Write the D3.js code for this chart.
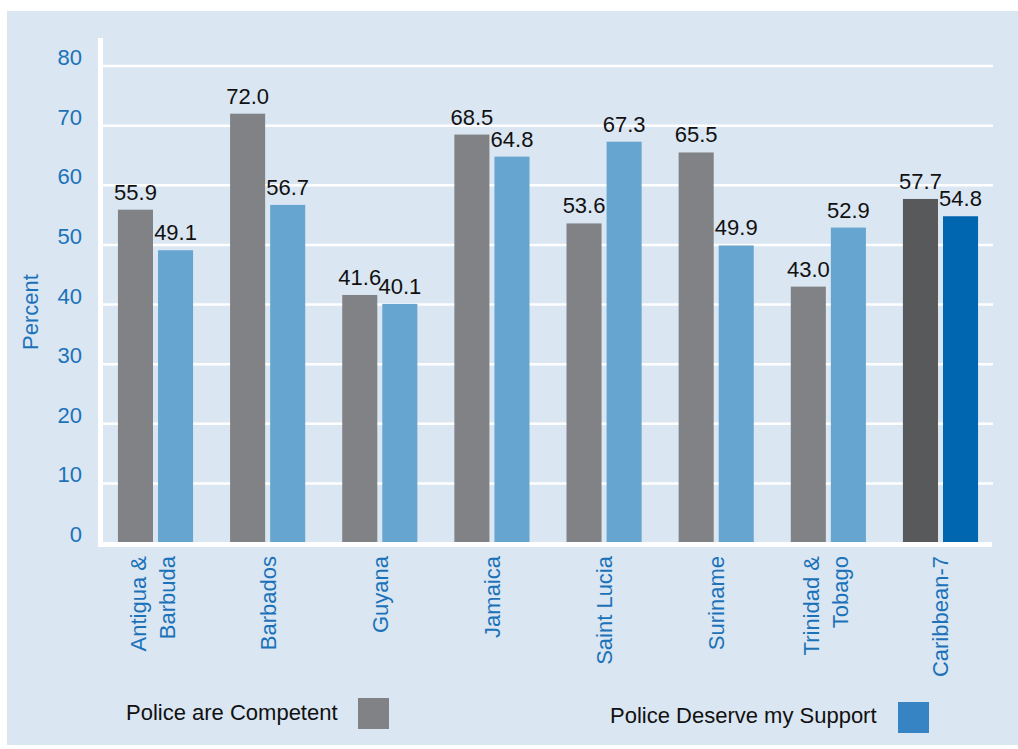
<!DOCTYPE html>
<html>
<head>
<meta charset="utf-8">
<script src="https://cdnjs.cloudflare.com/ajax/libs/d3/7.8.5/d3.min.js"></script>
<style>
  body { margin: 0; background: #fff; }
  svg { display: block; font-family: "Liberation Sans", Arial, Helvetica, sans-serif; }
  .tick-label, .cat-label, .y-title { fill: #1b72b9; font-size: 22px; }
  .val-label { fill: #111; font-size: 22px; }
  .legend-text { fill: #111; font-size: 22px; }
</style>
</head>
<body>
<svg width="1018" height="749"></svg>
<script>
var countries = [['Antigua &', 'Barbuda'], ['Barbados'], ['Guyana'], ['Jamaica'],
                 ['Saint Lucia'], ['Suriname'], ['Trinidad &', 'Tobago'], ['Caribbean-7']];
var competent = [55.9, 72.0, 41.6, 68.5, 53.6, 65.5, 43.0, 57.7];
var support   = [49.1, 56.7, 40.1, 64.8, 67.3, 49.9, 52.9, 54.8];
var seriesNames = ['Police are Competent', 'Police Deserve my Support'];
var yTicks = [0, 10, 20, 30, 40, 50, 60, 70, 80];

var svg = d3.select('svg'),
    w = +svg.attr('width'),
    h = +svg.attr('height');

// light blue panel
svg.append('rect')
    .attr('x', 7).attr('y', 11)
    .attr('width', w - 7).attr('height', 734)
    .attr('fill', '#dae6f2');

var keys = countries.map(function(c){ return c.join(' '); });

var xScale = d3.scaleBand()
      .domain(keys)
      .range([100, 996])
      .paddingInner(0.33)
      .paddingOuter(0.16),
    x1 = d3.scaleBand()
      .domain([0, 1])
      .range([0, xScale.bandwidth()])
      .paddingInner(0.125),
    yScale = d3.scaleLinear()
      .domain([0, 80])
      .range([543, 66]);

var colors = [
  ['#818285', '#818285', '#818285', '#818285', '#818285', '#818285', '#818285', '#58595b'],
  ['#66a5d0', '#66a5d0', '#66a5d0', '#66a5d0', '#66a5d0', '#66a5d0', '#66a5d0', '#0066b0']
];

// gridlines
svg.append('g').selectAll('line')
    .data(yTicks.slice(1))
    .enter()
    .append('line')
    .attr('x1', 100).attr('x2', 993)
    .attr('y1', function(d){ return yScale(d); })
    .attr('y2', function(d){ return yScale(d); })
    .attr('stroke', '#fff')
    .attr('stroke-width', 2.5);

svg.append('g').selectAll('text')
    .data(yTicks)
    .enter()
    .append('text')
    .attr('class', 'tick-label')
    .attr('x', 82)
    .attr('y', function(d){ return yScale(d) - 1; })
    .attr('text-anchor', 'end')
    .text(function(d){ return d; });

svg.append('text')
    .attr('class', 'y-title')
    .attr('transform', 'translate(30,312) rotate(-90)')
    .attr('text-anchor', 'middle')
    .attr('dy', '0.35em')
    .text('Percent');

// bars
var rows = keys.map(function(k, i){
  return { key: k, vals: [competent[i], support[i]], i: i };
});

var groups = svg.append('g').selectAll('g')
    .data(rows)
    .enter()
    .append('g')
    .attr('transform', function(d){ return 'translate(' + xScale(d.key) + ',0)'; });

groups.selectAll('rect')
    .data(function(d){ return d.vals.map(function(v, s){ return { v: v, s: s, i: d.i }; }); })
    .enter()
    .append('rect')
    .attr('x', function(d){ return x1(d.s); })
    .attr('y', function(d){ return yScale(d.v); })
    .attr('width', x1.bandwidth())
    .attr('height', function(d){ return yScale(0) - yScale(d.v); })
    .attr('fill', function(d){ return colors[d.s][d.i]; });

groups.selectAll('text')
    .data(function(d){ return d.vals.map(function(v, s){ return { v: v, s: s }; }); })
    .enter()
    .append('text')
    .attr('class', 'val-label')
    .attr('x', function(d){ return x1(d.s) + x1.bandwidth() / 2; })
    .attr('y', function(d){ return yScale(d.v) - 10; })
    .attr('text-anchor', 'middle')
    .text(function(d){ return d.v.toFixed(1); });

// axis lines
svg.append('line')
    .attr('x1', 100.5).attr('x2', 100.5)
    .attr('y1', 38).attr('y2', 547)
    .attr('stroke', '#fff').attr('stroke-width', 5);

svg.append('line')
    .attr('x1', 98).attr('x2', 992)
    .attr('y1', 544.5).attr('y2', 544.5)
    .attr('stroke', '#fff').attr('stroke-width', 5);

// category labels, rotated
var cats = svg.append('g').selectAll('text')
    .data(countries)
    .enter()
    .append('text')
    .attr('class', 'cat-label')
    .attr('text-anchor', 'end')
    .attr('transform', function(d, i){
      var cx = xScale(keys[i]) + xScale.bandwidth() / 2 - (d.length > 1 ? 3 : 0);
      return 'translate(' + cx + ',556) rotate(-90)';
    });

cats.selectAll('tspan')
    .data(function(d){
      return d.map(function(t, j){ return { t: t, j: j, n: d.length }; });
    })
    .enter()
    .append('tspan')
    .attr('x', 0)
    .attr('y', function(d){
      return d.n > 1 ? (d.j === 0 ? -6.5 : 22.5) : 8;
    })
    .text(function(d){ return d.t; });

// legend
var legend = [
  { name: seriesNames[0], tx: 126, ty: 720, sx: 358, sy: 698, color: '#818285' },
  { name: seriesNames[1], tx: 610, ty: 723, sx: 898, sy: 702, color: '#3784c5' }
];

var lg = svg.append('g').selectAll('g')
    .data(legend)
    .enter()
    .append('g');

lg.append('text')
    .attr('class', 'legend-text')
    .attr('x', function(d){ return d.tx; })
    .attr('y', function(d){ return d.ty; })
    .text(function(d){ return d.name; });

lg.append('rect')
    .attr('x', function(d){ return d.sx; })
    .attr('y', function(d){ return d.sy; })
    .attr('width', 31).attr('height', 31)
    .attr('fill', function(d){ return d.color; });
</script>
</body>
</html>
